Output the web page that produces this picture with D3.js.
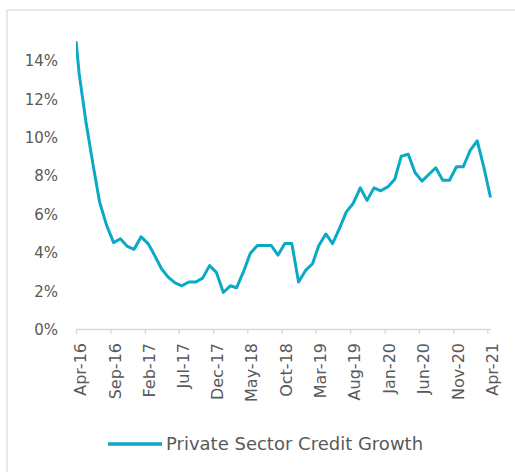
<!DOCTYPE html>
<html>
<head>
<meta charset="utf-8">
<script src="https://cdn.jsdelivr.net/npm/d3@7"></script>
<style>
  html, body { margin: 0; padding: 0; background: #ffffff; }
  svg { display: block; }
  .tick text { font-family: "DejaVu Sans", sans-serif; fill: #595959; }
</style>
</head>
<body>
<svg id="chart" width="515" height="472"></svg>
<script>
// Monthly observations (series starts one month before the first axis label)
const months = [
  "Mar-16","Apr-16","May-16","Jun-16","Jul-16","Aug-16","Sep-16","Oct-16","Nov-16","Dec-16",
  "Jan-17","Feb-17","Mar-17","Apr-17","May-17","Jun-17","Jul-17","Aug-17","Sep-17","Oct-17","Nov-17","Dec-17",
  "Jan-18","Feb-18","Mar-18","Apr-18","May-18","Jun-18","Jul-18","Aug-18","Sep-18","Oct-18","Nov-18","Dec-18",
  "Jan-19","Feb-19","Mar-19","Apr-19","May-19","Jun-19","Jul-19","Aug-19","Sep-19","Oct-19","Nov-19","Dec-19",
  "Jan-20","Feb-20","Mar-20","Apr-20","May-20","Jun-20","Jul-20","Aug-20","Sep-20","Oct-20","Nov-20","Dec-20",
  "Jan-21","Feb-21","Mar-21","Apr-21"
];

// Private sector credit growth, % year on year
const creditGrowth = [
  17.1, 13.3, 10.8, 8.6, 6.6, 5.4, 4.5, 4.7, 4.3, 4.15,
  4.8, 4.45, 3.85, 3.15, 2.7, 2.4, 2.25, 2.45, 2.45, 2.65, 3.3, 2.95,
  1.9, 2.25, 2.15, 3.0, 3.95, 4.35, 4.35, 4.35, 3.85, 4.45, 4.45, 2.45,
  3.05, 3.4, 4.35, 4.95, 4.45, 5.25, 6.1, 6.55, 7.35, 6.7, 7.35, 7.2,
  7.4, 7.8, 9.0, 9.1, 8.15, 7.7, 8.05, 8.4, 7.75, 7.75, 8.45, 8.45,
  9.3, 9.8, 8.5, 6.85
];

const xTickLabels = ["Apr-16","Sep-16","Feb-17","Jul-17","Dec-17","May-18","Oct-18",
                     "Mar-19","Aug-19","Jan-20","Jun-20","Nov-20","Apr-21"];
const yTicks = [0, 2, 4, 6, 8, 10, 12, 14];
const seriesName = "Private Sector Credit Growth";

const lineColor = "#0aa9c6";
const axisColor = "#d9d9d9";

const parseMonth = d3.timeParse("%b-%y");
const fmtMonth = d3.timeFormat("%b-%y");
// observations are plotted at mid-month
const midMonth = d => d3.timeDay.offset(parseMonth(d), 14);

const data = months.map((m, i) => ({ date: midMonth(m), value: creditGrowth[i] }));
const tickDates = xTickLabels.map(parseMonth);

const plot = { left: 76, right: 490.5, top: 41, bottom: 329 };

const x = d3.scaleTime()
  .domain([tickDates[0], data[data.length - 1].date])
  .range([plot.left, plot.right]);

const y = d3.scaleLinear()
  .domain([0, 15])
  .range([plot.bottom, plot.top]);

const svg = d3.select("#chart");

// outer frame
svg.append("rect")
  .attr("x", 7).attr("y", 10)
  .attr("width", 600).attr("height", 600)
  .attr("fill", "none")
  .attr("stroke", axisColor)
  .attr("stroke-width", 1.2);

// y axis labels (no axis line)
const yAxis = svg.append("g")
  .attr("transform", `translate(${plot.left},0)`)
  .call(d3.axisLeft(y).tickValues(yTicks).tickSize(0).tickPadding(18)
    .tickFormat(d => d + "%"));
yAxis.select(".domain").remove();
yAxis.selectAll(".tick text")
  .attr("font-size", 15)
  .attr("dy", "0.36em");

// x axis
const xAxis = svg.append("g")
  .attr("transform", `translate(0,${plot.bottom})`)
  .call(d3.axisBottom(x).tickValues(tickDates).tickSizeInner(5).tickSizeOuter(0)
    .tickFormat(fmtMonth));
xAxis.select(".domain").attr("stroke", axisColor).attr("stroke-width", 1.3);
xAxis.selectAll(".tick line").attr("stroke", axisColor).attr("stroke-width", 1.3);
xAxis.selectAll(".tick text")
  .attr("font-size", 16)
  .attr("text-anchor", "end")
  .attr("transform", "translate(4,14) rotate(-90)")
  .attr("x", 0)
  .attr("y", 0)
  .attr("dy", "0.36em");

// clip the series to the plotting area
svg.append("clipPath").attr("id", "plotClip")
  .append("rect")
  .attr("x", plot.left).attr("y", plot.top)
  .attr("width", plot.right - plot.left + 3)
  .attr("height", plot.bottom - plot.top);

const line = d3.line()
  .x(d => x(d.date))
  .y(d => y(d.value));

svg.append("path")
  .datum(data)
  .attr("clip-path", "url(#plotClip)")
  .attr("fill", "none")
  .attr("stroke", lineColor)
  .attr("stroke-width", 3)
  .attr("stroke-linejoin", "round")
  .attr("d", line);

// legend
const legend = svg.append("g").attr("transform", "translate(108,444)");
legend.append("line")
  .attr("x1", 0).attr("x2", 54)
  .attr("y1", 0).attr("y2", 0)
  .attr("stroke", lineColor)
  .attr("stroke-width", 3.5);
legend.append("text")
  .attr("x", 58)
  .attr("y", 0)
  .attr("dy", "0.36em")
  .attr("font-family", "DejaVu Sans, sans-serif")
  .attr("font-size", 18)
  .attr("fill", "#595959")
  .text(seriesName);
</script>
</body>
</html>
